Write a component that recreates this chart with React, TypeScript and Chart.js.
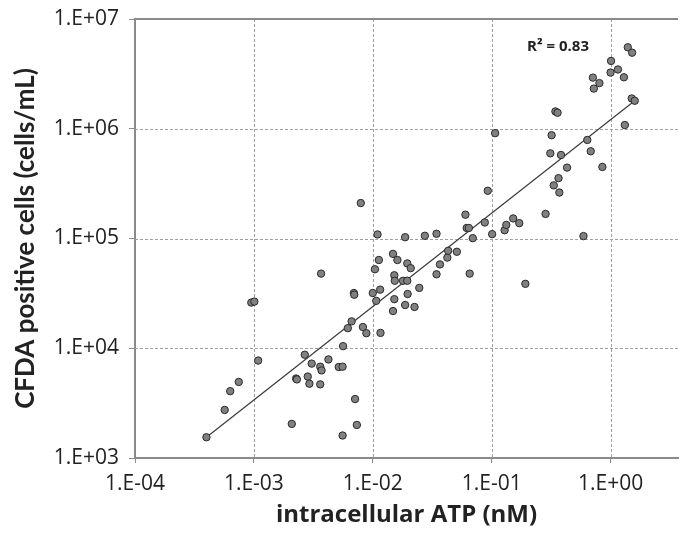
import React, { useEffect, useRef } from "react";
import { Chart, registerables } from "chart.js";

Chart.register(...registerables);

// intracellular ATP (nM) for each sample
const ATP_NM = [
  3.99e-4, 5.68e-4, 6.32e-4, 7.46e-4, 9.51e-4, 1.009e-3, 1.086e-3, 2.084e-3, 2.265e-3, 2.3e-3,
  2.679e-3, 2.838e-3, 2.931e-3, 3.062e-3, 3.614e-3, 3.614e-3, 3.707e-3, 3.673e-3, 4.236e-3, 5.176e-3,
  5.572e-3, 5.623e-3, 5.572e-3, 6.166e-3, 6.637e-3, 6.934e-3, 6.982e-3, 7.096e-3, 7.345e-3, 7.925e-3,
  8.26e-3, 8.831e-3, 1.0e-2, 1.042e-2, 1.069e-2, 1.096e-2, 1.125e-2, 1.153e-2, 1.161e-2, 1.479e-2,
  1.479e-2, 1.517e-2, 1.517e-2, 1.531e-2, 1.611e-2, 1.795e-2, 1.871e-2, 1.871e-2, 1.95e-2, 1.95e-2,
  1.963e-2, 2.084e-2, 2.244e-2, 2.46e-2, 2.742e-2, 3.436e-2, 3.436e-2, 3.673e-2, 4.236e-2, 4.305e-2,
  5.093e-2, 6.012e-2, 6.166e-2, 6.427e-2, 6.531e-2, 6.934e-2, 8.75e-2, 9.268e-2, 0.1009, 0.1069,
  0.1285, 0.1327, 0.1517, 0.1706, 0.1919, 0.2838, 0.3112, 0.3192, 0.3327, 0.3436,
  0.3581, 0.3648, 0.3707, 0.3828, 0.4305, 0.5916, 0.6368, 0.6808, 0.7096, 0.7228,
  0.8054, 0.8531, 1.0, 1.009, 1.153, 1.294, 1.318, 1.396, 1.517, 1.507,
  1.596,
];

// CFDA positive cells (cells/mL) for each sample
const CFDA_CELLS = [
  1545, 2742, 4064, 4932, 26060, 26610, 7727, 2046, 5297, 5200,
  8730, 5521, 4753, 7244, 4688, 6792, 6281, 47860, 7907, 6745,
  6792, 10450, 1603, 15240, 17580, 31840, 30760, 3443, 2000, 210400,
  15600, 13710, 31840, 52480, 27040, 108900, 63680, 34200, 13800, 21830,
  72440, 46240, 27990, 41210, 63680, 41210, 24770, 102800, 41210, 59290,
  31190, 53700, 23770, 35480, 105900, 110400, 47210, 58070, 66990, 77270,
  75680, 164800, 124700, 124700, 47860, 100700, 140000, 272300, 109600, 912000,
  118900, 133000, 152400, 138000, 38640, 167500, 597000, 873000, 304800, 1439000,
  1400000, 354800, 262400, 576800, 442600, 105200, 790700, 623700, 2924000, 2323000,
  2606000, 448700, 3251000, 4150000, 3467000, 2944000, 1081000, 5521000, 4932000, 1888000,
  1799000,
];

// power-law trend line: log10(y) = slope * log10(x) + intercept
const FIT_SLOPE = 0.851;
const FIT_LOG_INTERCEPT = 6.082;
const R2_LABEL = "R\u00B2 = 0.83";

const X_TICK_EXPONENTS = [-4, -3, -2, -1, 0];
const Y_TICK_EXPONENTS = [3, 4, 5, 6, 7];
const X_MIN = 1e-4;
const X_MAX = 3.69;
const Y_MIN = 1e3;
const Y_MAX = 1e7;

const X_TITLE = "intracellular ATP (nM)";
const Y_TITLE = "CFDA positive cells (cells/mL)";

function sciLabel(v: number): string {
  const e = Math.round(Math.log10(v));
  return "1.E" + (e < 0 ? "-" : "+") + String(Math.abs(e)).padStart(2, "0");
}

export default function App() {
  const ref = useRef<HTMLCanvasElement | null>(null);

  useEffect(() => {
    if (!ref.current) return;
    const points = ATP_NM.map((x, i) => ({ x, y: CFDA_CELLS[i] }));
    const xLo = Math.min(...ATP_NM);
    const xHi = Math.max(...ATP_NM);
    const fit = (x: number) => Math.pow(10, FIT_SLOPE * Math.log10(x) + FIT_LOG_INTERCEPT);
    const trend = [
      { x: xLo, y: fit(xLo) },
      { x: xHi, y: fit(xHi) },
    ];

    const framePlugin = {
      id: "frameAndLabel",
      beforeDatasetsDraw(chart: any) {
        const { ctx, chartArea } = chart;
        const { left, right, top, bottom } = chartArea;
        const xs = chart.scales.x;
        const ys = chart.scales.y;
        ctx.save();
        ctx.strokeStyle = "#a0a0a0";
        ctx.lineWidth = 1;
        ctx.setLineDash([3, 2]);
        X_TICK_EXPONENTS.forEach((e) => {
          const px = Math.round(xs.getPixelForValue(Math.pow(10, e))) + 0.5;
          if (px <= left + 2 || px >= right - 1) return;
          ctx.beginPath();
          ctx.moveTo(px, top);
          ctx.lineTo(px, bottom);
          ctx.stroke();
        });
        Y_TICK_EXPONENTS.forEach((e) => {
          const py = Math.round(ys.getPixelForValue(Math.pow(10, e))) + 0.5;
          if (py <= top + 2 || py >= bottom - 2) return;
          ctx.beginPath();
          ctx.moveTo(left, py);
          ctx.lineTo(right, py);
          ctx.stroke();
        });
        ctx.setLineDash([]);
        ctx.strokeStyle = "#8a8a8a";
        ctx.lineWidth = 2;
        ctx.beginPath();
        ctx.moveTo(left, top);
        ctx.lineTo(right, top);
        ctx.stroke();
        ctx.restore();
      },
      afterDatasetsDraw(chart: any) {
        const { ctx } = chart;
        ctx.save();
        ctx.font = "bold 15px 'Open Sans'";
        ctx.fillStyle = "#222";
        ctx.textAlign = "left";
        ctx.textBaseline = "middle";
        ctx.fillText(R2_LABEL, 527, 47);
        ctx.restore();
      },
    };

    const chart = new Chart(ref.current, {
      type: "scatter",
      data: {
        datasets: [
          {
            label: "samples",
            data: points,
            pointRadius: 3.7,
            pointBackgroundColor: "#808080",
            pointBorderColor: "#2a2a2a",
            pointBorderWidth: 1,
          },
          {
            label: "trend",
            type: "line",
            data: trend,
            showLine: true,
            pointRadius: 0,
            borderColor: "#3a3a3a",
            borderWidth: 1.2,
            fill: false,
          } as any,
        ],
      },
      options: {
        responsive: false,
        animation: false,
        layout: { padding: { top: 19, left: 0, right: 0, bottom: 0 } },
        plugins: { legend: { display: false }, tooltip: { enabled: false } },
        scales: {
          x: {
            type: "logarithmic",
            position: "bottom",
            min: X_MIN,
            max: X_MAX,
            afterBuildTicks: (s: any) => {
              s.ticks = X_TICK_EXPONENTS.map((e) => ({ value: Math.pow(10, e) }));
            },
            afterFit: (s: any) => {
              s.height = 75;
              s.paddingLeft = 0;
              s.paddingRight = 0;
            },
            ticks: {
              callback: (v: any) => sciLabel(Number(v)),
              font: { family: "'Open Sans'", size: 21 },
              color: "#222",
              padding: 8,
              maxRotation: 0,
              autoSkip: false,
            },
            grid: {
              drawOnChartArea: false,
              color: "#8a8a8a",
              lineWidth: 1,
              tickLength: 5,
              tickColor: "#8a8a8a",
            },
            border: { color: "#8a8a8a", width: 2 },
            title: {
              display: true,
              text: X_TITLE,
              font: { family: "'Open Sans'", size: 24, weight: "bold" },
              color: "#222",
              padding: { top: 0, bottom: 3 },
            },
          },
          y: {
            type: "logarithmic",
            min: Y_MIN,
            max: Y_MAX,
            afterBuildTicks: (s: any) => {
              s.ticks = Y_TICK_EXPONENTS.map((e) => ({ value: Math.pow(10, e) }));
            },
            afterFit: (s: any) => {
              s.width = 135;
              s.paddingTop = 0;
              s.paddingBottom = 0;
            },
            ticks: {
              callback: (v: any) => sciLabel(Number(v)),
              font: { family: "'Open Sans'", size: 21 },
              color: "#222",
              padding: 10,
              autoSkip: false,
            },
            grid: {
              drawOnChartArea: false,
              color: "#8a8a8a",
              lineWidth: 1,
              tickLength: 6,
              tickColor: "#8a8a8a",
            },
            border: { color: "#8a8a8a", width: 2 },
            title: {
              display: true,
              text: Y_TITLE,
              font: { family: "Lato", size: 26, weight: "bold" },
              color: "#222",
              padding: { top: 10, bottom: 0 },
            },
          },
        },
      },
      plugins: [framePlugin],
    });
    return () => chart.destroy();
  }, []);

  return (
    <div style={{ position: "fixed", left: 0, top: 0, width: 683, height: 533, background: "#fff" }}>
      <canvas ref={ref} width={683} height={533} style={{ display: "block" }} />
    </div>
  );
}
